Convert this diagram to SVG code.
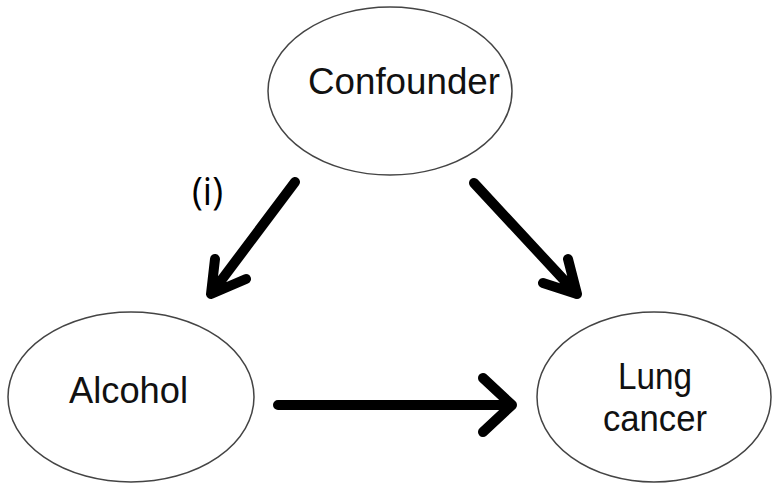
<svg xmlns="http://www.w3.org/2000/svg" width="773" height="485" viewBox="0 0 773 485">
<style>
.node ellipse{fill:#fff;stroke:#444;stroke-width:1.5}
.lbl{font-family:"Liberation Sans",Arial,sans-serif;fill:#111;font-size:36px}
.edge{fill:none;stroke:#000;stroke-width:10;stroke-linecap:round;stroke-linejoin:round}
</style>
<rect width="773" height="485" fill="#fff"/>
<g id="confounder" class="node">
<ellipse cx="390" cy="91" rx="122" ry="84"/>
<text class="lbl" x="308" y="94" textLength="192" lengthAdjust="spacingAndGlyphs">Confounder</text>
</g>
<g id="alcohol" class="node">
<ellipse cx="131" cy="397" rx="123" ry="85"/>
<text class="lbl" x="69" y="403" textLength="119" lengthAdjust="spacingAndGlyphs">Alcohol</text>
</g>
<g id="lungcancer" class="node">
<ellipse cx="654" cy="397" rx="117" ry="85"/>
<text class="lbl" x="618" y="389" textLength="74" lengthAdjust="spacingAndGlyphs">Lung</text>
<text class="lbl" x="603" y="431" textLength="104" lengthAdjust="spacingAndGlyphs">cancer</text>
</g>
<g id="connectors">
<path class="edge" d="M295 182 L211 294 M215 259 L211 294 L246 279"/>
<path class="edge" d="M474 183 L577 294 M568 259 L577 294 L543 283"/>
<path class="edge" d="M278 405 L512 405 M483 378 L512 405 L483 432"/>
</g>
<text x="192" y="205" font-family="'Open Sans','Liberation Sans',sans-serif" font-size="38" textLength="31" lengthAdjust="spacingAndGlyphs" fill="#000">(i)</text>
</svg>
